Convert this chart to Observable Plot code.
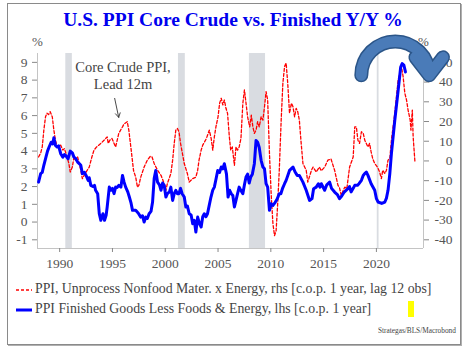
<!DOCTYPE html>
<html>
<head>
<meta charset="utf-8">
<script src="https://cdn.jsdelivr.net/npm/d3@7"></script>
<script src="https://cdn.jsdelivr.net/npm/@observablehq/plot@0.6"></script>
<style>
  body { margin: 0; background: #fff; font-family: "Liberation Serif", "Times New Roman", serif; }
  #page { position: relative; width: 470px; height: 353px; overflow: hidden; }
  #frame { position: absolute; left: 7px; top: 3px; width: 452px; height: 340px; border: 1px solid #8a8a8a; box-shadow: 1px 1px 0 #b0b0b0; }
  #title { position: absolute; left: 0; width: 466px; top: 9px; text-align: center; font-weight: bold; font-size: 19.5px; color: #0000ee; }
  #chart { position: absolute; left: 0; top: 35px; }
  #chart svg text { font-family: "Liberation Serif", "Times New Roman", serif; }
  .pct { position: absolute; top: 34px; font-size: 13px; color: #555; }
  .leg { position: absolute; left: 16px; font-size: 13.8px; color: #444; white-space: nowrap; }
  .leg svg { vertical-align: middle; margin-right: 3px; }
  #yellow { position: absolute; left: 408px; top: 301px; width: 6px; height: 16px; background: #ffff00; }
  #source { position: absolute; left: 378px; top: 326px; font-size: 7.3px; color: #444; }
</style>
</head>
<body>
<div id="page">
  <div id="frame"></div>
  <div id="title">U.S. PPI Core Crude vs. Finished Y/Y %</div>
  <div class="pct" style="left:32px">%</div>
  <div class="pct" style="left:418px">%</div>
  <div id="chart"></div>
  <div class="leg" style="top:281px"><svg width="16" height="4"><line x1="0" y1="2" x2="16" y2="2" stroke="#ff0000" stroke-width="1.3" stroke-dasharray="3,2"/></svg>PPI, Unprocess Nonfood Mater. x Energy, rhs [c.o.p. 1 year, lag 12 obs]</div>
  <div class="leg" style="top:301px"><svg width="16" height="4"><line x1="0" y1="2" x2="16" y2="2" stroke="#0000ff" stroke-width="3"/></svg>PPI Finished Goods Less Foods &amp; Energy, lhs [c.o.p. 1 year]</div>
  <div id="yellow"></div>
  <div id="source">Strategas/BLS/Macrobond</div>
</div>
<script>
// Blue: PPI Finished Goods Less Foods & Energy (lhs, %)
const finishedYears = [1988.0,1988.2,1988.35,1988.5,1988.7,1988.85,1989.0,1989.2,1989.35,1989.45,1989.6,1989.77,1989.9,1990.1,1990.3,1990.45,1990.55,1990.8,1991.0,1991.2,1991.35,1991.5,1991.7,1991.85,1992.0,1992.15,1992.35,1992.5,1992.7,1992.8,1992.95,1993.15,1993.3,1993.4,1993.6,1993.75,1993.9,1994.1,1994.25,1994.4,1994.5,1994.7,1994.85,1995.0,1995.15,1995.3,1995.45,1995.6,1995.8,1995.95,1996.1,1996.25,1996.45,1996.6,1996.75,1996.9,1997.2,1997.45,1997.68,1997.85,1998.0,1998.16,1998.3,1998.47,1998.65,1998.8,1998.95,1999.1,1999.27,1999.45,1999.6,1999.75,1999.9,2000.06,2000.2,2000.4,2000.53,2000.7,2000.85,2001.0,2001.15,2001.3,2001.45,2001.6,2001.8,2001.95,2002.1,2002.27,2002.45,2002.6,2002.75,2002.9,2003.07,2003.25,2003.4,2003.55,2003.7,2003.85,2004.0,2004.15,2004.33,2004.5,2004.65,2004.8,2004.97,2005.15,2005.3,2005.45,2005.6,2005.8,2005.95,2006.1,2006.25,2006.4,2006.55,2006.7,2006.85,2007.0,2007.15,2007.35,2007.5,2007.65,2007.8,2007.95,2008.1,2008.25,2008.44,2008.6,2008.75,2008.9,2009.08,2009.25,2009.4,2009.55,2009.7,2009.87,2010.03,2010.2,2010.4,2010.6,2010.8,2010.95,2011.1,2011.3,2011.45,2011.77,2012.1,2012.3,2012.5,2012.7,2013.04,2013.35,2013.67,2013.9,2014.05,2014.3,2014.5,2014.65,2014.78,2015.1,2015.3,2015.57,2015.75,2016.04,2016.3,2016.5,2016.7,2016.95,2017.3,2017.45,2017.6,2017.8,2017.95,2018.2,2018.35,2018.58,2018.75,2018.9,2019.05,2019.2,2019.5,2019.84,2020.0,2020.16,2020.5,2020.8,2020.95,2021.1,2021.27,2021.42,2021.74,2022.06,2022.3,2022.44,2022.6,2022.75];
const finishedValues = [2.25,2.73,2.8,3.2,3.66,4.0,4.23,4.5,4.4,4.75,4.32,4.23,4.3,3.85,3.66,3.8,3.76,3.57,4.0,3.9,3.66,3.6,3.38,3.3,3.2,2.73,2.8,2.63,2.35,2.5,2.07,2.0,2.07,1.79,1.6,0.47,0.1,0.47,0.1,0.38,0.85,1.97,1.79,1.9,1.6,1.97,1.95,2.07,1.97,2.63,2.25,1.97,1.7,1.41,1.1,0.66,0.66,0.5,0.28,0.35,0.0,0.28,0.2,0.47,0.6,1.13,2.45,2.91,2.25,2.1,1.79,2.2,2.07,1.41,1.6,1.7,1.97,1.22,1.6,1.79,1.6,1.6,1.9,1.6,1.41,0.85,0.9,0.47,0.4,-0.09,0.1,-0.56,0.28,-0.1,-0.28,0.3,0.47,0.3,0.47,0.9,1.41,1.8,1.97,2.4,2.91,2.8,3.1,3.0,3.29,2.7,1.41,1.79,1.6,1.5,0.85,1.22,1.6,1.97,1.8,1.6,2.1,2.54,2.7,2.2,2.54,2.7,3.29,4.6,4.5,4.2,3.48,3.1,3.0,2.16,1.97,0.66,1.03,0.94,1.1,1.3,1.6,1.6,1.88,2.16,2.35,2.91,3.1,2.82,2.63,2.63,2.25,1.79,1.22,1.32,1.88,1.97,2.16,1.97,2.16,1.79,2.1,2.25,1.9,1.69,1.55,1.32,1.45,1.69,1.88,2.0,1.7,1.9,2.07,2.07,2.16,2.35,2.63,2.73,2.82,2.63,2.16,1.79,1.32,1.13,1.05,1.13,1.35,1.79,2.73,3.85,5.73,7.42,8.74,8.93,8.85,8.46];

// Red dashed: PPI Unprocessed Nonfood Materials x Energy (rhs, %, lag 12 obs)
const crudeYears = [1988.0,1988.2,1988.35,1988.5,1988.66,1988.8,1988.95,1989.1,1989.3,1989.45,1989.6,1989.77,1989.95,1990.1,1990.3,1990.45,1990.7,1990.87,1991.0,1991.2,1991.35,1991.5,1991.7,1991.85,1992.0,1992.15,1992.4,1992.8,1993.05,1993.25,1993.5,1993.9,1994.2,1994.5,1994.6,1994.75,1994.95,1995.3,1995.6,1995.95,1996.1,1996.4,1996.55,1996.7,1996.85,1997.0,1997.2,1997.37,1997.5,1997.68,1998.0,1998.3,1998.6,1998.75,1998.95,1999.27,1999.6,1999.9,2000.06,2000.2,2000.53,2000.7,2000.85,2001.0,2001.15,2001.3,2001.45,2001.8,2001.95,2002.1,2002.27,2002.6,2002.9,2003.07,2003.2,2003.4,2003.55,2003.9,2004.17,2004.35,2004.5,2004.65,2004.8,2005.0,2005.15,2005.3,2005.45,2005.6,2005.75,2005.9,2006.07,2006.2,2006.35,2006.55,2006.7,2006.85,2007.0,2007.17,2007.35,2007.5,2007.65,2007.8,2008.0,2008.15,2008.3,2008.44,2008.6,2008.75,2008.9,2009.08,2009.25,2009.4,2009.55,2009.7,2009.87,2010.03,2010.2,2010.35,2010.5,2010.65,2010.8,2010.98,2011.14,2011.3,2011.45,2011.6,2011.77,2011.95,2012.1,2012.25,2012.4,2012.55,2012.7,2012.85,2013.04,2013.35,2013.5,2013.85,2014.0,2014.3,2014.6,2014.78,2015.1,2015.4,2015.7,2016.04,2016.36,2016.5,2016.67,2016.85,2017.0,2017.2,2017.46,2017.8,2017.95,2018.1,2018.25,2018.4,2018.58,2018.75,2018.9,2019.2,2019.35,2019.5,2019.65,2019.84,2020.1,2020.3,2020.47,2020.6,2020.8,2020.95,2021.1,2021.27,2021.42,2021.74,2022.06,2022.37,2022.53,2022.69,2022.85,2023.0,2023.2,2023.27,2023.4,2023.48,2023.65];
const crudeValues = [2.0,4.0,7.1,15.6,22.4,24.2,23.5,25.0,22.4,15.6,10.5,7.1,7.5,8.0,5.5,6.3,2.0,-1.3,-5.6,-3.1,2.0,0.4,2.0,-1.3,-4.7,-9.0,-6.5,-3.1,2.0,5.5,7.1,8.9,10.5,12.2,8.9,10.5,11.4,7.1,14.0,17.3,18.8,19.9,15.6,8.9,2.0,-5.0,-8.2,-13.3,-12.4,-8.2,-3.1,0.4,2.4,2.0,-1.3,-4.7,-7.3,-11.5,-14.9,-11.5,-6.4,0.4,8.9,15.6,16.5,14.8,8.9,-1.3,-3.9,-6.5,-10.7,-9.0,-8.2,-4.7,0.4,5.5,8.0,11.4,15.6,11.4,5.5,12.2,17.3,22.4,29.3,31.8,28.4,30.9,26.7,24.2,12.2,5.5,7.1,-2.2,7.1,5.5,7.1,11.4,29.3,36.0,29.3,22.4,17.3,23.2,17.3,14.0,15.6,19.9,17.3,22.4,20.7,27.5,35.2,30.9,3.8,-16.6,-31.9,-37.9,-35.4,-21.6,-4.7,20.7,39.4,47.9,49.6,39.4,24.2,29.3,27.5,22.4,26.7,24.9,20.7,10.5,-1.3,-4.7,-10.7,-4.7,-3.1,-5.6,-3.1,-5.0,-3.1,0.4,1.0,-4.7,-12.4,-13.5,-17.5,-15.0,-13.3,-14.0,-3.1,2.0,17.3,17.3,10.5,8.9,14.8,14.0,10.5,7.1,8.9,4.6,1.2,-1.3,-3.1,-5.6,-9.0,-4.7,-6.4,-4.7,0.4,1.2,10.5,24.2,41.1,47.9,42.8,34.4,31.0,25.8,20.7,15.6,25.8,12.2,-0.5];

// Recession periods (shaded)
const recessionStarts = [1990.58, 2001.25, 2007.97, 2020.08];
const recessionEnds   = [1991.2, 2001.9, 2009.5, 2020.25];

// Axes
const xDomain = [1987.9, 2024.46];
const yDomain = [-1.49, 9.5];
const xTicks = [1990, 1995, 2000, 2005, 2010, 2015, 2020];
const leftTicks = [-1, 0, 1, 2, 3, 4, 5, 6, 7, 8, 9];
const rightTicks = [-40, -30, -20, -10, 0, 10, 20, 30, 40, 50];
// rhs value r maps to lhs value l with r = 9*l - 31
const rhsToLhs = r => (r + 31) / 9;

// Annotations
const noteText = ["Core Crude PPI,\nLead 12m"];
const noteX = [1996.0];
const noteY = [8.28];
const noteArrow = {x1: 1995.21, y1: 6.97, x2: 1995.59, y2: 5.9};
const bigArrow = {x1: 2018.57, y1: 8.27, x2: 2025.0, y2: 8.27};

const finished = finishedYears.map((x, i) => ({x, v: finishedValues[i]}));
const crude = crudeYears.map((x, i) => ({x, v: rhsToLhs(crudeValues[i])}));
const recessions = recessionStarts.map((s, i) => ({s, e: recessionEnds[i]}));

const axisColor = "#c4c4c4";
const textColor = "#555";

const chart = Plot.plot({
  width: 470,
  height: 240,
  marginLeft: 37,
  marginRight: 47,
  marginTop: 18,
  marginBottom: 27,
  style: {fontFamily: "'Liberation Serif', 'Times New Roman', serif", fontSize: "13.5px", color: textColor, background: "transparent", overflow: "visible"},
  x: {domain: xDomain, label: null},
  y: {domain: yDomain, label: null},
  marks: [
    Plot.rect(recessions, {x1: "s", x2: "e", fill: "#d9dce1"}),
    Plot.ruleX([xDomain[0]], {stroke: axisColor}),
    Plot.ruleX([xDomain[1]], {stroke: axisColor}),
    Plot.ruleY([yDomain[0]], {stroke: axisColor}),
    Plot.axisX({ticks: xTicks, tickFormat: d => String(d), tickSize: 4, tickPadding: 6, stroke: "#888", label: null}),
    Plot.axisY({anchor: "left", ticks: leftTicks, tickFormat: d => String(d), tickSize: 5, tickPadding: 5, stroke: "#888", label: null}),
    Plot.axisY(rightTicks, {anchor: "right", y: rhsToLhs, text: d => String(d), tickSize: 5, tickPadding: 24, textAnchor: "end", stroke: "#888", label: null}),
    Plot.line(crude, {x: "x", y: "v", stroke: "#ff0000", strokeWidth: 1.3, strokeDasharray: "3,2"}),
    Plot.line(finished, {x: "x", y: "v", stroke: "#0000ff", strokeWidth: 3, strokeLinejoin: "round"}),
    Plot.text(noteText, {x: (d, i) => noteX[i], y: (d, i) => noteY[i], text: d => d, fontSize: 14.5, lineHeight: 1.15, fill: "#444", textAnchor: "middle"}),
    Plot.arrow([noteArrow], {x1: "x1", y1: "y1", x2: "x2", y2: "y2", stroke: "#333", strokeWidth: 0.9, headLength: 8}),
    Plot.arrow([bigArrow], {x1: "x1", y1: "y1", x2: "x2", y2: "y2", bend: 90, stroke: "#2b5588", strokeWidth: 14, headLength: 10, headAngle: 75}),
    Plot.arrow([bigArrow], {x1: "x1", y1: "y1", x2: "x2", y2: "y2", bend: 90, stroke: "#4a7bb8", strokeWidth: 11, headLength: 10, headAngle: 75})
  ]
});
document.getElementById("chart").appendChild(chart);
</script>
</body>
</html>
